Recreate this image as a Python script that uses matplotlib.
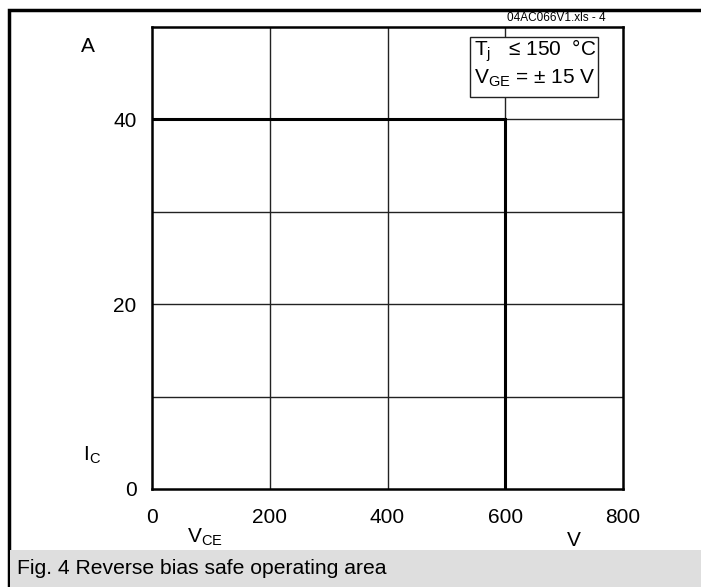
import matplotlib
matplotlib.use("Agg")
import matplotlib.pyplot as plt
from matplotlib.patches import Rectangle

plt.rcParams['font.family'] = ['Liberation Sans', 'DejaVu Sans']

# Data
vce = [0, 600, 600]
ic = [40, 40, 0]
xticks = [0, 200, 400, 600, 800]
xtick_labels = ["0", "200", "400", "600", "800"]
yticks = [0, 20, 40]
ytick_labels = ["0", "20", "40"]
ygrid = [10, 20, 30, 40]
xgrid = [200, 400, 600]

W, H = 701, 587
fig = plt.figure(figsize=(W/100, H/100), dpi=100)

def fx(px): return px / W
def fy(py): return 1 - py / H

# outer frame and caption band
fig.patches.append(Rectangle((fx(9), fy(587)), fx(701) - fx(9) + 0.01, fy(10) - fy(587),
                             transform=fig.transFigure, fill=False, edgecolor='black', lw=2.5))
fig.patches.append(Rectangle((fx(10), fy(587)), 1, fy(550) - fy(587),
                             transform=fig.transFigure, facecolor='#dedede', edgecolor='none'))
fig.text(fx(17), fy(569), "Fig. 4 Reverse bias safe operating area", fontsize=15.2, va='center', ha='left')

ax = fig.add_axes([fx(152), fy(489), fx(623) - fx(152), fy(27) - fy(489)])
ax.set_xlim(0, 800)
ax.set_ylim(0, 50)
for y in ygrid:
    ax.axhline(y, color='#222222', lw=1.0, zorder=1)
for x in xgrid:
    ax.axvline(x, color='#222222', lw=1.0, zorder=1)
ax.plot(vce, ic, color='black', lw=2.2, zorder=3, solid_joinstyle='miter')
for s in ax.spines.values():
    s.set_linewidth(1.8)
ax.set_xticks(xticks)
ax.set_xticklabels(xtick_labels)
ax.set_yticks(yticks)
ax.set_yticklabels(ytick_labels)
ax.tick_params(length=0, labelsize=15)
ax.tick_params(axis='x', pad=14)
ax.tick_params(axis='y', pad=11)

fig.text(fx(88), fy(47), "A", fontsize=15, ha='center', va='center')
fig.text(fx(92), fy(455), r"I$_\mathregular{C}$", fontsize=15, ha='center', va='center')
fig.text(fx(205), fy(537), r"V$_\mathregular{CE}$", fontsize=15, ha='center', va='center')
fig.text(fx(574), fy(541), "V", fontsize=15, ha='center', va='center')
fig.text(fx(556), fy(18), "04AC066V1.xls - 4", fontsize=8.5, ha='center', va='center')

# legend box
fig.patches.append(Rectangle((fx(470), fy(97)), fx(598) - fx(470), fy(37) - fy(97),
                             transform=fig.transFigure, facecolor='white', edgecolor='#222222', lw=1.0, zorder=5))
fig.text(fx(474), fy(51), r"T$_\mathregular{j}$   ≤ 150  °C", fontsize=15, ha='left', va='center', zorder=6)
fig.text(fx(474), fy(78), r"V$_\mathregular{GE}$ = ± 15 V", fontsize=15, ha='left', va='center', zorder=6)

fig.savefig("out.png", dpi=100)
